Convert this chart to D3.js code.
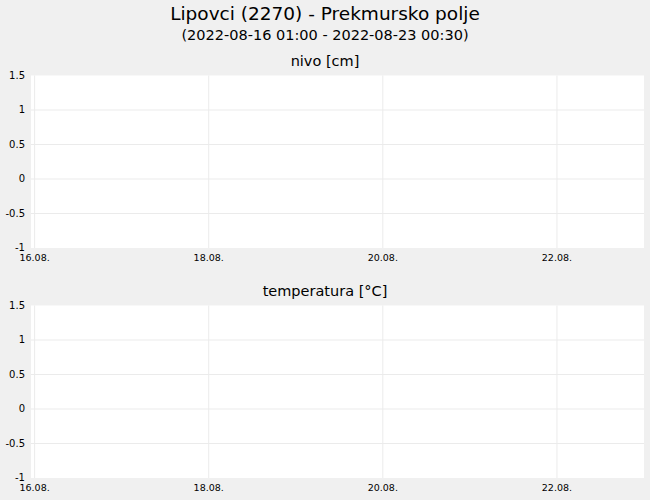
<!DOCTYPE html>
<html><head><meta charset="utf-8">
<script src="https://cdn.jsdelivr.net/npm/d3@7"></script>
<style>
html,body{margin:0;padding:0;background:#f0f0f0;}
text{font-family:"DejaVu Sans",sans-serif;fill:#000;}
</style></head>
<body>
<svg id="c" width="650" height="500"></svg>
<script>
const mainTitle = "Lipovci (2270) - Prekmursko polje";
const subTitle = "(2022-08-16 01:00 - 2022-08-23 00:30)";
const panelTitles = ["nivo [cm]", "temperatura [°C]"];
const timeDomain = ["2022-08-15T23:00", "2022-08-23T00:00"];
const xTickDates = ["2022-08-16", "2022-08-18", "2022-08-20", "2022-08-22"];
const xTickLabels = ["16.08.", "18.08.", "20.08.", "22.08."];
const yTicks = [-1, -0.5, 0, 0.5, 1, 1.5];
const yTickLabels = ["-1", "-0.5", "0", "0.5", "1", "1.5"];
const nivoValues = [];
const temperaturaValues = [];
const seriesList = [nivoValues, temperaturaValues];

const svg = d3.select("#c");
svg.append("rect").attr("width",650).attr("height",500).attr("fill","#f0f0f0");
svg.append("text").attr("x",325).attr("y",19.5).attr("text-anchor","middle")
  .attr("font-size","18.5px").text(mainTitle);
svg.append("text").attr("x",325).attr("y",40).attr("text-anchor","middle")
  .attr("font-size","14.5px").text(subTitle);

const parse = d3.timeParse("%Y-%m-%dT%H:%M");
const parseD = d3.timeParse("%Y-%m-%d");
const left = 31, right = 644;
const x = d3.scaleTime().domain(timeDomain.map(parse)).range([left, right]);
const panels = [{top:75.5, bottom:248, titleY:65.5},{top:305.5, bottom:478, titleY:296}];

panels.forEach((p, i) => {
  const y = d3.scaleLinear().domain([-1, 1.5]).range([p.bottom, p.top]);
  const g = svg.append("g");
  g.append("text").attr("x",325).attr("y",p.titleY).attr("text-anchor","middle")
    .attr("font-size","14.5px").text(panelTitles[i]);
  g.append("rect").attr("x",left).attr("y",p.top).attr("width",right-left)
    .attr("height",p.bottom-p.top).attr("fill","#fff");
  g.selectAll("line.h").data(yTicks.slice(1, -1)).enter().append("line")
    .attr("x1",left).attr("x2",right).attr("y1",d=>y(d)).attr("y2",d=>y(d))
    .attr("stroke","#ebebeb").attr("stroke-width",1);
  g.selectAll("line.v").data(xTickDates).enter().append("line")
    .attr("x1",d=>x(parseD(d))).attr("x2",d=>x(parseD(d)))
    .attr("y1",p.top).attr("y2",p.bottom)
    .attr("stroke","#ebebeb").attr("stroke-width",1);
  g.selectAll("text.y").data(yTicks).enter().append("text")
    .attr("x",25).attr("y",d=>y(d)).attr("dy","0.3em").attr("text-anchor","end")
    .attr("font-size","10px").text((d,j)=>yTickLabels[j]);
  g.selectAll("text.x").data(xTickDates).enter().append("text")
    .attr("x",d=>x(parseD(d))).attr("y",p.bottom+12.5).attr("text-anchor","middle")
    .attr("font-size","9.5px").text((d,j)=>xTickLabels[j]);
  const line = d3.line().x(d=>x(parse(d.t))).y(d=>y(d.v));
  if (seriesList[i].length) g.append("path").datum(seriesList[i]).attr("d",line)
    .attr("fill","none").attr("stroke","#1f77b4");
});
</script>
</body></html>
